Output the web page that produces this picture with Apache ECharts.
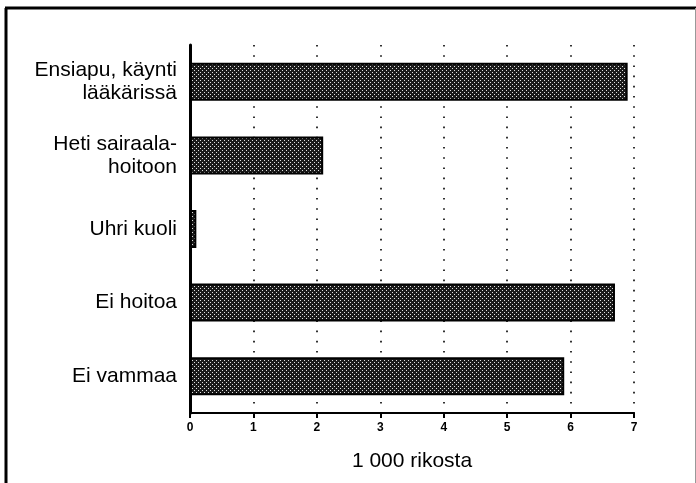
<!DOCTYPE html>
<html>
<head>
<meta charset="utf-8">
<script src="https://cdn.jsdelivr.net/npm/echarts@6/dist/echarts.min.js"></script>
<style>
  html, body { margin: 0; padding: 0; background: #fff; }
  #main { width: 696px; height: 483px; }
</style>
</head>
<body>
<div id="main"></div>
<script>
// luokat alhaalta ylös (kategoria-akseli piirtää ensimmäisen alimmaksi)
var categories = ['Ei vammaa', 'Ei hoitoa', 'Uhri kuoli', 'Heti sairaala-\nhoitoon', 'Ensiapu, käynti\nlääkärissä'];
var values = [5.9, 6.7, 0.1, 2.1, 6.9];
var xTicks = [0, 1, 2, 3, 4, 5, 6, 7];
var axisTitle = '1 000 rikosta';

// rasterikuvio pylväille
function makePattern() {
    var c = document.createElement('canvas');
    c.width = 4; c.height = 4;
    var ctx = c.getContext('2d');
    ctx.fillStyle = '#1a1a1a';
    ctx.fillRect(0, 0, 4, 4);
    ctx.fillStyle = '#e0e0e0';
    ctx.fillRect(0, 0, 1, 1);
    ctx.fillRect(2, 2, 1, 1);
    return c;
}

var myChart = echarts.init(document.getElementById('main'));
var font = '"Liberation Sans", Arial, sans-serif';

var option = {
    animation: false,
    backgroundColor: '#fff',
    grid: { left: 190, right: 62, top: 45, bottom: 70, containLabel: false },
    xAxis: {
        type: 'value',
        min: xTicks[0],
        max: xTicks[xTicks.length - 1],
        interval: 1,
        name: axisTitle,
        nameLocation: 'middle',
        nameGap: 38,
        nameTextStyle: { fontFamily: font, fontSize: 21, color: '#000' },
        axisLine: { show: true, lineStyle: { color: '#000', width: 2 } },
        axisTick: { show: true, length: 5, lineStyle: { color: '#000', width: 2 } },
        axisLabel: { fontFamily: font, fontSize: 12, fontWeight: 'bold', color: '#000', margin: 9 },
        splitLine: { show: true, lineStyle: { color: '#000', width: 1.6, type: [1.6, 8.6] } }
    },
    yAxis: {
        type: 'category',
        data: categories,
        axisLine: { show: true, lineStyle: { color: '#000', width: 3 } },
        axisTick: { show: false },
        axisLabel: { fontFamily: font, fontSize: 21, color: '#000', margin: 13, align: 'right', lineHeight: 23 }
    },
    series: [{
        type: 'bar',
        data: values,
        barWidth: 38,
        itemStyle: {
            color: { image: makePattern(), repeat: 'repeat' },
            borderColor: '#000',
            borderWidth: 2
        }
    }],
    graphic: [
        { type: 'line', shape: { x1: 6, y1: 8, x2: 6, y2: 483 }, style: { stroke: '#000', lineWidth: 3 } },
        { type: 'line', shape: { x1: 5, y1: 8, x2: 696, y2: 8 }, style: { stroke: '#000', lineWidth: 3 } },
        { type: 'line', shape: { x1: 695.5, y1: 8, x2: 695.5, y2: 483 }, style: { stroke: '#999', lineWidth: 1 } }
    ]
};

myChart.setOption(option);
</script>
</body>
</html>
